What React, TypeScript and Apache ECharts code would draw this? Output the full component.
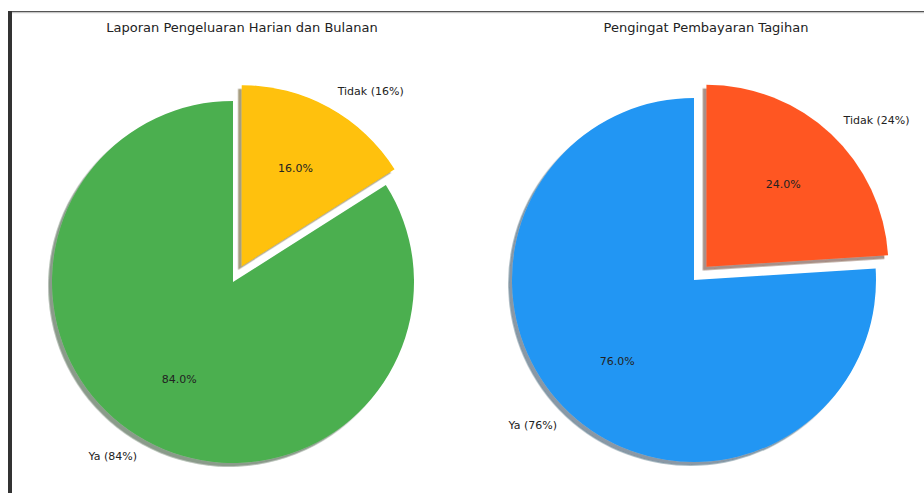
import React, { useEffect, useRef } from "react";
import * as echarts from "echarts";

const CATEGORIES = ["Ya", "Tidak"];
const LAPORAN_VALUES = [84, 16];
const TAGIHAN_VALUES = [76, 24];
const EXPLODED = [false, true];
const TITLES = ["Laporan Pengeluaran Harian dan Bulanan", "Pengingat Pembayaran Tagihan"];
const LAPORAN_COLORS = ["#4CAF50", "#FFC107"];
const TAGIHAN_COLORS = ["#2196F3", "#FF5722"];

const FONT = "DejaVu Sans";
const TEXT_COLOR = "#222";

function shadowOf(hex: string) {
  const n = parseInt(hex.slice(1), 16);
  const r = Math.round(((n >> 16) & 255) * 0.3);
  const g = Math.round(((n >> 8) & 255) * 0.3);
  const b = Math.round((n & 255) * 0.3);
  return `rgba(${r},${g},${b},0.5)`;
}

function buildPie(values: number[], colors: string[], center: number[], r: number) {
  const total = values.reduce((a, b) => a + b, 0);
  const common = {
    type: "pie",
    center,
    startAngle: 90,
    clockwise: false,
    selectedMode: "multiple",
    selectedOffset: 0.1 * r,
    avoidLabelOverlap: false,
    emphasis: { disabled: true },
    animation: false,
  };
  const main = {
    ...common,
    radius: [0, r],
    z: 2,
    label: {
      show: true,
      position: "outside",
      distanceToLabelLine: 0,
      fontFamily: FONT,
      fontSize: 11,
      color: TEXT_COLOR,
      formatter: (p: any) => `${p.name} (${Math.round((p.value / total) * 100)}%)`,
    },
    labelLine: { show: false, length: 0.1 * r, length2: 0 },
    data: CATEGORIES.map((name, i) => ({
      name,
      value: values[i],
      selected: EXPLODED[i],
      itemStyle: {
        color: colors[i],
        shadowColor: shadowOf(colors[i]),
        shadowOffsetX: -0.02 * r,
        shadowOffsetY: 0.02 * r,
        shadowBlur: 0,
      },
    })),
  };
  const pct = {
    ...common,
    radius: [0.2 * r, r],
    silent: true,
    z: 3,
    label: {
      show: true,
      position: "inside",
      fontFamily: FONT,
      fontSize: 11,
      color: TEXT_COLOR,
      formatter: (p: any) => `${((p.value / total) * 100).toFixed(1)}%`,
    },
    labelLine: { show: false },
    data: CATEGORIES.map((name, i) => ({
      name,
      value: values[i],
      selected: EXPLODED[i],
      itemStyle: { color: "rgba(0,0,0,0)" },
    })),
  };
  return [main, pct];
}

export default function App() {
  const ref = useRef<HTMLDivElement>(null);
  useEffect(() => {
    if (!ref.current) return;
    const chart = echarts.init(ref.current, null, { renderer: "svg" });
    chart.setOption({
      animation: false,
      backgroundColor: "#ffffff",
      graphic: [
        { type: "rect", shape: { x: 8, y: 11, width: 916, height: 1.5 }, style: { fill: "#555" }, silent: true },
        { type: "rect", shape: { x: 8, y: 12.5, width: 916, height: 1 }, style: { fill: "#e6e6e6" }, silent: true },
        { type: "rect", shape: { x: 8, y: 11, width: 4, height: 482 }, style: { fill: "#333" }, silent: true },
        {
          type: "text",
          x: 242,
          y: 27,
          style: { text: TITLES[0], fontFamily: FONT, fontSize: 13, fill: TEXT_COLOR, textAlign: "center", textVerticalAlign: "middle" },
          silent: true,
        },
        {
          type: "text",
          x: 706,
          y: 27,
          style: { text: TITLES[1], fontFamily: FONT, fontSize: 13, fill: TEXT_COLOR, textAlign: "center", textVerticalAlign: "middle" },
          silent: true,
        },
      ],
      series: [
        ...buildPie(LAPORAN_VALUES, LAPORAN_COLORS, [233, 282], 181),
        ...buildPie(TAGIHAN_VALUES, TAGIHAN_COLORS, [694, 280], 182),
      ],
    });
    return () => chart.dispose();
  }, []);
  return (
    <div
      ref={ref}
      style={{ position: "fixed", left: 0, top: 0, width: 924, height: 493 }}
    />
  );
}
